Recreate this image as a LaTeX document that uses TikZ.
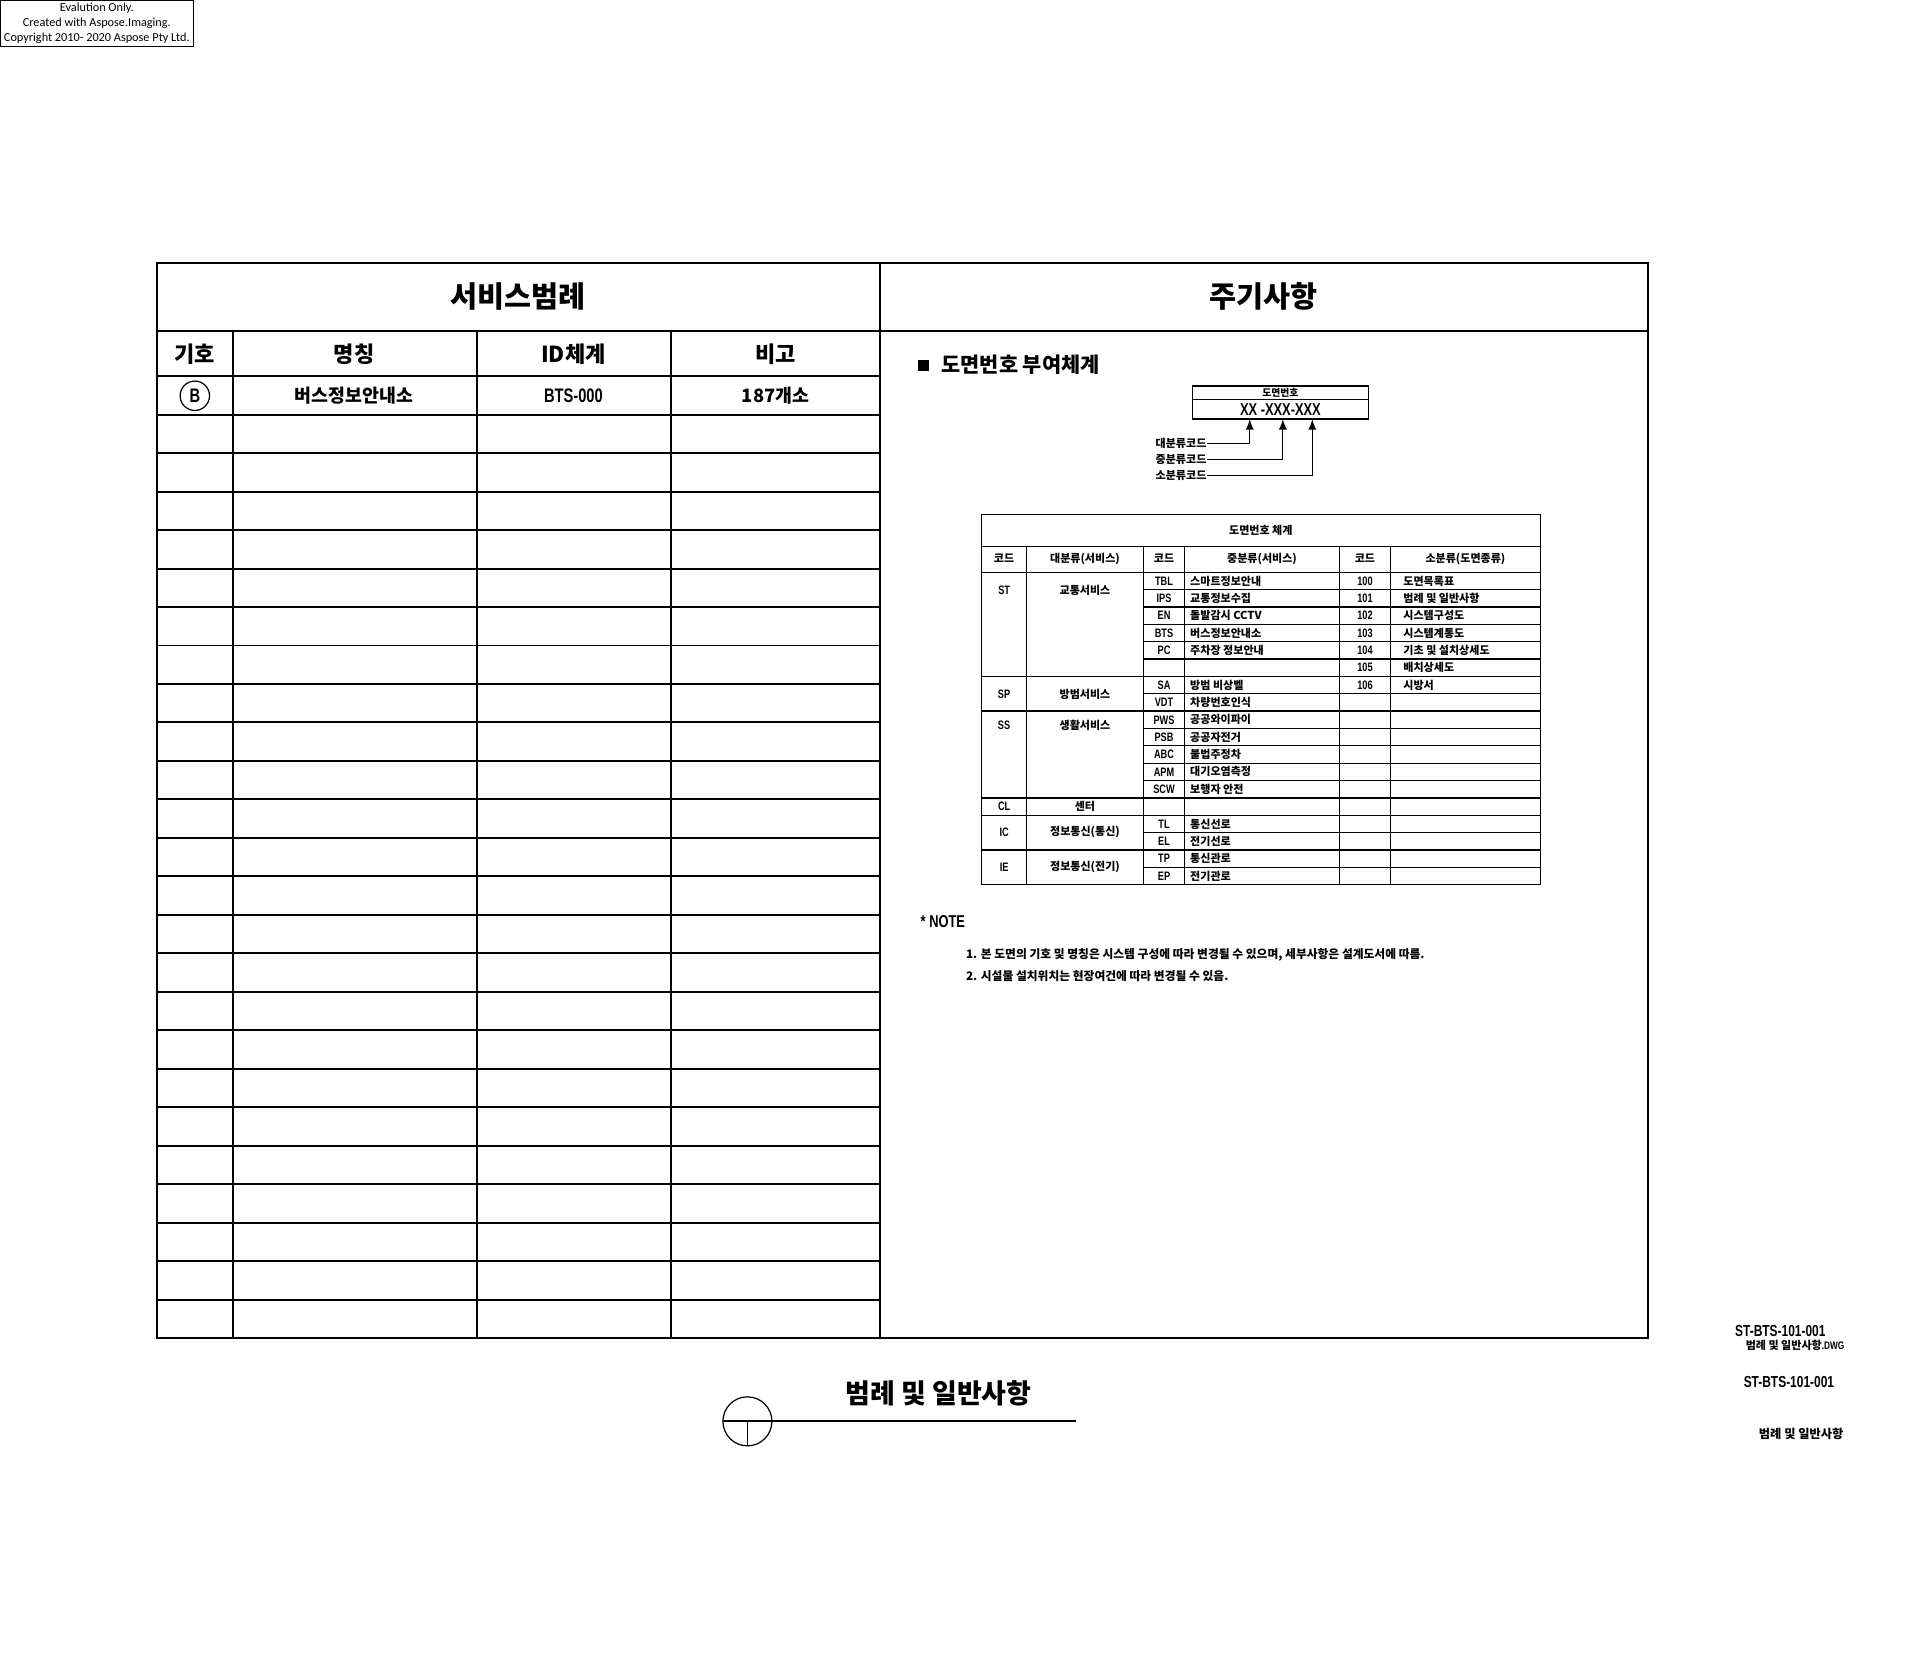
\documentclass[tikz,border=0pt]{standalone}
\usepackage{fontspec}
\usepackage{tikz}
\usetikzlibrary{arrows}
\newfontfamily\kr{Noto Sans CJK KR}
\newfontfamily\cad[FakeStretch=0.75]{Liberation Sans}
\newfontfamily\wm{Carlito}
\newcommand\fsz[1]{\fontsize{#1}{#1}\selectfont}

\begin{document}
\begin{tikzpicture}[x=0.5pt,y=-0.5pt,
		frame/.style={line width=0.8pt},
		thinline/.style={line width=0.5pt},
		ttl/.style={font=\kr\bfseries\fsz{12}},
		colhd/.style={font=\kr\bfseries\fsz{9}},
		celltxt/.style={font=\kr\bfseries\fsz{7.5}},
		celllat/.style={font=\cad\bfseries\fsz{8}},
		small/.style={font=\kr\bfseries\fsz{4.5}, inner sep=0pt},
		smalllat/.style={font=\cad\bfseries\fsz{5}, inner sep=0pt}]
		\useasboundingbox (0,0) rectangle (1567,1371);
		% watermark
		\draw[thinline] (0,0) rectangle (158,38);
		\node[font=\wm\fontsize{5}{6}\selectfont, align=center, inner sep=0pt] (eval) at (79,19) {Evalution Only.\\Created with Aspose.Imaging.\\Copyright 2010- 2020 Aspose Pty Ltd.};
		% frames
		\draw[frame] (128,215) rectangle (1345,1092);
		\draw[frame] (718,215) -- (718,1092);
		\draw[frame] (128,270) -- (1345,270);
		\draw[frame] (128,307) -- (718,307);
		\foreach \i in {1,...,24} \draw[frame] (128,{307+31.4*\i}) -- (718,{307+31.4*\i});
		\foreach \x in {190,389,548} \draw[frame] (\x,270) -- (\x,1092);
		\node[ttl] (ttlL) at (423,242) {서비스범례};
		\node[ttl] (ttlR) at (1031,242) {주기사항};
		\node[colhd] (hd1) at (159,289) {기호};
		\node[colhd] (hd2) at (289,289) {명칭};
		\node[colhd] (hd3) at (468,289) {ID체계};
		\node[colhd] (hd4) at (633,289) {비고};
		\node[draw, thinline, circle, minimum size=12pt, inner sep=0pt, celllat] (symB) at (159,323) {B};
		\node[celltxt] (nmB) at (289,323) {버스정보안내소};
		\node[celllat] (idB) at (468,323) {BTS-000};
		\node[celltxt] (rmB) at (633,323) {187개소};
		% numbering scheme
		\fill (749,294) rectangle (758,303);
		\node[font=\kr\bfseries\fsz{8.5}, anchor=west, inner sep=0pt] (scheme) at (768,298) {도면번호 부여체계};
		\draw[thinline] (973,315) rectangle (1117,342);
		\draw[thinline] (973,326) -- (1117,326);
		\node[small, font=\kr\bfseries\fsz{4}] (boxhd) at (1045,320.5) {도면번호};
		\node[font=\cad\bfseries\fsz{7}, inner sep=0pt] (boxno) at (1045,334) {XX -XXX-XXX};
		\node[small, anchor=east] (lbl1) at (985,362) {대분류코드};
		\node[small, anchor=east] (lbl2) at (985,375) {중분류코드};
		\node[small, anchor=east] (lbl3) at (985,388) {소분류코드};
		\coordinate (pin1) at (1020,342);
		\coordinate (pin2) at (1047,342);
		\coordinate (pin3) at (1071,342);
		\draw[thinline,-latex] (lbl1.east) -| (pin1);
		\draw[thinline,-latex] (lbl2.east) -| (pin2);
		\draw[thinline,-latex] (lbl3.east) -| (pin3);
		% code table
		\draw[thinline] (801,420) rectangle (1257,722);
		\draw[thinline] (801,446) -- (1257,446);
		\draw[thinline] (801,467) -- (1257,467);
		\foreach \x in {838,933,967,1093,1135} \draw[thinline] (\x,446) -- (\x,722);
		\foreach \i in {1,...,17} \draw[thinline] (933,{467+14.17*\i}) -- (1257,{467+14.17*\i});
		\foreach \i in {6,8,13,14,16} \draw[thinline] (801,{467+14.17*\i}) -- (933,{467+14.17*\i});
		\node[small] (tblhd) at (1029,433) {도면번호 체계};
		\node[small] (h1) at (819.5,456) {코드};
		\node[small] (h2) at (885.5,456) {대분류(서비스)};
		\node[small] (h3) at (950,456) {코드};
		\node[small] (h4) at (1030,456) {중분류(서비스)};
		\node[small] (h5) at (1114,456) {코드};
		\node[small] (h6) at (1196,456) {소분류(도면종류)};
		\foreach \c/\nm/\y in {ST/교통서비스/482, SP/방범서비스/566.5, SS/생활서비스/592, CL/센터/658, IC/정보통신(통신)/679.4, IE/정보통신(전기)/707.7} {
			\node[smalllat] (grp\c) at (819.5,\y) {\c};
			\node[small] (grpnm\c) at (885.5,\y) {\nm};
		}
		\foreach \c/\nm [count=\i] in {TBL/스마트정보안내, IPS/교통정보수집, EN/돌발감시 CCTV, BTS/버스정보안내소, PC/주차장 정보안내, {}/{}, SA/방범 비상벨, VDT/차량번호인식, PWS/공공와이파이, PSB/공공자전거, ABC/불법주정차, APM/대기오염측정, SCW/보행자 안전, {}/{}, TL/통신선로, EL/전기선로, TP/통신관로, EP/전기관로} {
			\node[smalllat] (mid\i) at (950,{467+14.17*(\i-0.5)}) {\c};
			\node[small, anchor=west] (midnm\i) at (971,{467+14.17*(\i-0.5)}) {\nm};
		}
		\foreach \c/\nm [count=\i] in {100/도면목록표, 101/범례 및 일반사항, 102/시스템구성도, 103/시스템계통도, 104/기초 및 설치상세도, 105/배치상세도, 106/시방서} {
			\node[smalllat] (sub\i) at (1114,{467+14.17*(\i-0.5)}) {\c};
			\node[small, anchor=west] (subnm\i) at (1145,{467+14.17*(\i-0.5)}) {\nm};
		}
		% notes
		\node[font=\cad\bfseries\fsz{7}, anchor=west, inner sep=0pt] (note) at (751,752) {* NOTE};
		\node[font=\kr\bfseries\fsz{4.8}, anchor=west, inner sep=0pt] (note1) at (788,779) {1. 본 도면의 기호 및 명칭은 시스템 구성에 따라 변경될 수 있으며, 세부사항은 설계도서에 따름.};
		\node[font=\kr\bfseries\fsz{4.8}, anchor=west, inner sep=0pt] (note2) at (788,797) {2. 시설물 설치위치는 현장여건에 따라 변경될 수 있음.};
		% drawing title
		\node[font=\kr\bfseries\fsz{11}] (dwgttl) at (766,1137) {범례 및 일반사항};
		\draw[frame] (590,1160) -- (878,1160);
		\draw[thinline] (610,1160) circle[radius=10pt];
		\draw[thinline] (610,1160) -- (610,1180);
		% file info
		\node[font=\cad\bfseries\fsz{6.5}, inner sep=0pt] (file1) at (1453,1086) {ST-BTS-101-001};
		\node[font=\kr\bfseries\fsz{4.5}, inner sep=0pt] (file2) at (1465,1098) {범례 및 일반사항{\cad.DWG}};
		\node[font=\cad\bfseries\fsz{6.5}, inner sep=0pt] (file3) at (1460,1128) {ST-BTS-101-001};
		\node[font=\kr\bfseries\fsz{5}, inner sep=0pt] (file4) at (1470,1170) {범례 및 일반사항};
	\end{tikzpicture}
\end{document}
